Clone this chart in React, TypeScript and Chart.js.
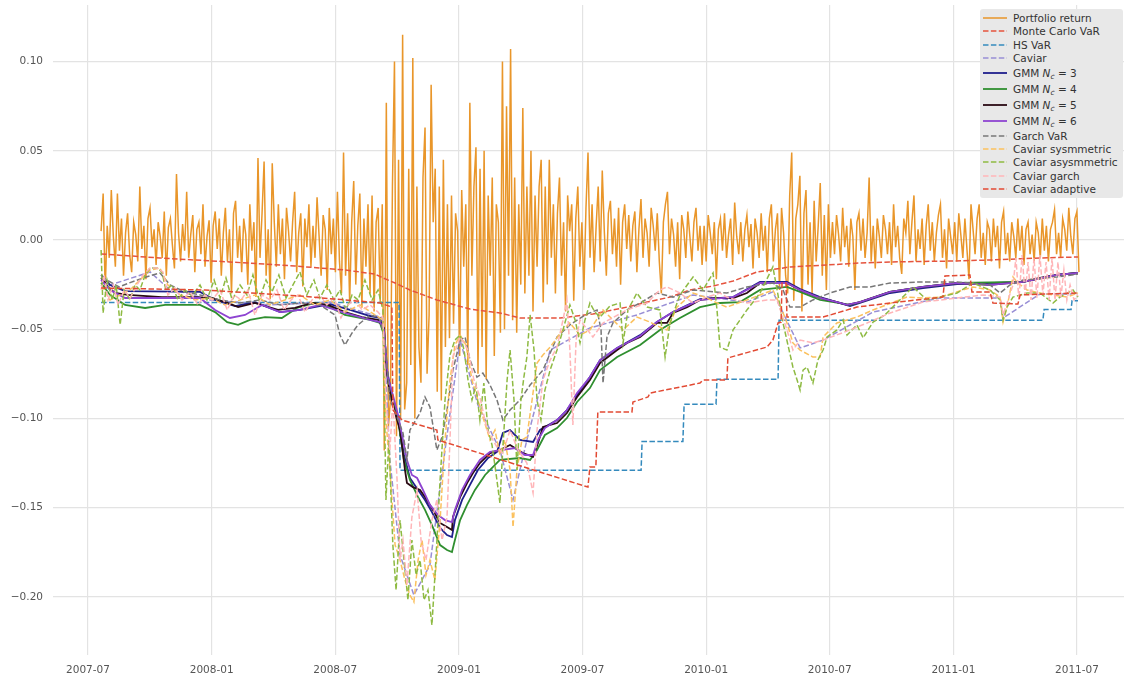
import React, { useEffect, useRef } from 'react';
import { Chart, registerables } from 'chart.js';

Chart.register(...registerables);

const FONT = '"DejaVu Sans", "Liberation Sans", sans-serif';

const xTickValues = [2007.5, 2008.0, 2008.5, 2009.0, 2009.5, 2010.0, 2010.5, 2011.0, 2011.5];
const xTickLabels = ['2007-07', '2008-01', '2008-07', '2009-01', '2009-07', '2010-01', '2010-07', '2011-01', '2011-07'];
const yTickValues = [-0.2, -0.15, -0.1, -0.05, 0, 0.05, 0.1];
const yTickLabels = ['\u22120.20', '\u22120.15', '\u22120.10', '\u22120.05', '0.00', '0.05', '0.10'];

// Portfolio return, sampled about every 3 calendar days from 2007-07-20
const returnStart = 2007.553;
const returnStep = 0.0082396;
const portfolioReturn = [
  // Jul 2007 - mid Sep 2008
  0.005, 0.026, -0.028, 0.008, -0.01, 0.028, 0.002, -0.015, 0.026, -0.006,
  0.012, -0.02, 0.004, 0.015, -0.008, -0.018, 0.01, 0.003, -0.012, 0.03,
  -0.005, 0.008, -0.022, 0.012, 0.018, -0.004, 0.006, -0.014, 0.01, 0.002,
  -0.01, 0.016, -0.02, 0.007, 0.012, -0.003, -0.016, 0.037, 0.004, -0.012,
  0.009, -0.006, 0.027, -0.01, 0.003, 0.014, -0.018, 0.006, 0.01, -0.008,
  0.02, -0.015, 0.002, 0.011, -0.024, 0.008, 0.016, -0.005, 0.012, -0.02,
  0.004, 0.018, -0.012, 0.006, -0.03, 0.015, 0.022, -0.01, 0.008, -0.018,
  0.012, 0.003, -0.025, 0.02, -0.006, 0.01, -0.032, 0.046, -0.01, 0.015,
  0.044, -0.02, 0.006, -0.033, 0.043, 0.01, -0.015, 0.02, -0.008, 0.012,
  -0.022, 0.018, 0.005, -0.012, 0.01, 0.027, -0.018, 0.004, 0.015, -0.026,
  0.012, -0.004, 0.02, -0.015, 0.008, -0.01, 0.024, 0.002, -0.02, 0.014,
  0.006, -0.028, 0.018, -0.008, 0.012, -0.018, 0.027, -0.012, -0.03, 0.049,
  -0.02, 0.015, -0.035, 0.01, 0.033, -0.025, 0.008, 0.026, -0.038, 0.012,
  -0.015, 0.02, -0.03, 0.025, -0.04, 0.01, 0.018, -0.035,
  // crisis: mid Sep 2008 - Apr 2009
  0.02, -0.118, 0.077, -0.105, -0.09, 0.03, 0.1, -0.11, 0.045, -0.1,
  0.115, -0.095, -0.08, 0.04, -0.07, 0.102, -0.1, 0.03, -0.06, -0.08,
  0.035, 0.063, -0.075, -0.042, 0.087, 0.01, 0.04, -0.085, 0.03, -0.09,
  0.045, -0.06, 0.02, -0.055, 0.025, -0.047, 0.015, 0.005, -0.065, 0.028,
  -0.015, 0.02, -0.07, 0.077, -0.02, 0.03, 0.052, -0.075, 0.04, -0.06,
  0.05, -0.078, 0.025, -0.02, 0.035, -0.065, 0.02, 0.01, -0.052, 0.1,
  -0.05, 0.075, -0.02, 0.107, -0.045, 0.035, -0.052, 0.02, -0.025, 0.074,
  -0.03, 0.03, -0.02, 0.05, -0.04, 0.025, -0.015, 0.03, 0.045, -0.035,
  // Apr 2009 - Dec 2009
  0.03, -0.025, 0.045, -0.01, 0.02, -0.03, 0.015, 0.035, -0.02, 0.01,
  -0.04, 0.025, 0.005, 0.02, -0.034, 0.012, 0.03, -0.015, 0.01, -0.028,
  0.018, 0.049, -0.01, 0.02, -0.018, 0.008, 0.03, -0.012, 0.039, 0.005,
  -0.02, 0.015, 0.022, -0.008, 0.012, -0.015, 0.018, -0.025, 0.01, 0.02,
  -0.005, 0.014, -0.012, 0.008, 0.016, -0.018, 0.006, 0.023, -0.01, 0.012,
  0.004, -0.015, 0.018, 0.008, -0.006, 0.015, -0.012, -0.03, 0.01, 0.02,
  0.027, -0.008, 0.012, 0.003, -0.015, 0.01, -0.022, 0.014, 0.006, -0.01,
  0.016, 0.002, -0.012, 0.01, 0.018, -0.006, 0.008, -0.014,
  // 2010 H1
  0.008, -0.012, 0.014, 0.004, -0.008, 0.01, -0.022, 0.006, 0.012, -0.006,
  0.015, -0.01, 0.003, 0.012, -0.014, 0.021, 0.002, -0.008, 0.01, -0.012,
  0.006, 0.014, -0.004, 0.009, -0.016, 0.012, 0.004, -0.01, 0.015, -0.006,
  0.008, -0.018, 0.012, 0.02, -0.012, 0.006, 0.015, -0.028, 0.018, 0.004,
  -0.02, -0.03, 0.025, 0.049, -0.034, 0.012, 0.02, 0.036, -0.04, 0.015,
  0.028, -0.025, 0.01, -0.03, 0.022, -0.012, 0.008, 0.032, -0.02, 0.014,
  -0.028, 0.02, -0.01,
  // Jul 2010 - Jul 2011
  0.01, -0.008, 0.014, 0.003, -0.012, 0.018, -0.004, 0.008, -0.015, 0.012,
  0.002, -0.028, 0.01, 0.015, -0.006, 0.012, -0.01, 0.004, 0.035, -0.012,
  0.008, -0.016, 0.012, 0.002, -0.01, 0.014, 0.006, -0.008, 0.01, -0.014,
  0.02, -0.004, 0.008, -0.01, -0.019, 0.012, 0.004, 0.022, -0.008, 0.01,
  0.025, -0.012, 0.006, -0.005, 0.012, -0.014, 0.008, 0.02, -0.006, 0.01,
  -0.012, 0.004, 0.014, 0.02, -0.01, 0.006, -0.016, 0.012, 0.002, -0.008,
  0.01, -0.012, 0.015, 0.003, -0.01, 0.012, -0.005, -0.022, 0.02, 0.006,
  -0.008, 0.012, 0.02, -0.01, 0.004, -0.014, 0.01, 0.006, -0.012, 0.012,
  -0.004, 0.008, -0.016, 0.01, 0.016, -0.008, 0.004, -0.012, 0.01, 0.002,
  -0.01, 0.012, -0.006, 0.008, -0.014, 0.006, 0.01, -0.008, 0.003, -0.012,
  0.01, 0.004, -0.01, 0.012, -0.006, 0.008, -0.012, 0.006, 0.01, 0.017,
  -0.008, 0.004, -0.01, 0.012, 0.006, -0.006, 0.018, 0.002, -0.008, 0.012,
  0.016, -0.018,
];

const monteCarloVaR: [number, number][] = [
  [2007.553, -0.0078], [2007.791, -0.0101], [2008.074, -0.0123], [2008.337, -0.0146],
  [2008.539, -0.0168], [2008.661, -0.0191], [2008.693, -0.0213], [2008.742, -0.0241],
  [2008.802, -0.028], [2008.911, -0.0336], [2009.045, -0.0387], [2009.166, -0.0409],
  [2009.247, -0.0437], [2009.409, -0.0437], [2009.542, -0.0415], [2009.68, -0.0376],
  [2009.761, -0.0348], [2009.854, -0.032], [2009.935, -0.028], [2010.028, -0.0258],
  [2010.109, -0.023], [2010.206, -0.0179], [2010.339, -0.0151], [2010.489, -0.014],
  [2010.622, -0.0129], [2010.744, -0.0123], [2010.986, -0.0118], [2011.148, -0.0112],
  [2011.35, -0.0101], [2011.504, -0.0095],
];

const hsVaR: [number, number][] = [
  [2007.553, -0.035], [2008.758, -0.035], [2008.762, -0.129], [2009.737, -0.129],
  [2009.741, -0.113], [2009.906, -0.113], [2009.911, -0.092], [2010.04, -0.092],
  [2010.044, -0.078], [2010.291, -0.078], [2010.295, -0.045], [2011.362, -0.045],
  [2011.367, -0.039], [2011.476, -0.039], [2011.48, -0.034], [2011.504, -0.034],
];

const caviar: [number, number][] = [
  [2007.553, -0.0269], [2007.751, -0.0179], [2007.823, -0.0269], [2007.993, -0.0336],
  [2008.236, -0.0364], [2008.479, -0.0348], [2008.693, -0.0437], [2008.721, -0.1233],
  [2008.762, -0.1766], [2008.818, -0.199], [2008.883, -0.1822], [2008.944, -0.1177],
  [2009.005, -0.0561], [2009.077, -0.0925], [2009.166, -0.1177], [2009.219, -0.1457],
  [2009.275, -0.1121], [2009.369, -0.0617], [2009.53, -0.0493], [2009.72, -0.042],
  [2009.947, -0.0308], [2010.165, -0.0348], [2010.27, -0.0291], [2010.38, -0.0605],
  [2010.473, -0.0561], [2010.675, -0.0404], [2010.946, -0.0325], [2011.189, -0.0325],
  [2011.201, -0.0437], [2011.35, -0.0303], [2011.504, -0.0303],
];

const gmm3: [number, number][] = [
  [2007.553, -0.0196], [2007.589, -0.0252], [2007.65, -0.0286], [2007.953, -0.0291],
  [2008.014, -0.0336], [2008.095, -0.037], [2008.175, -0.0348], [2008.277, -0.0404],
  [2008.357, -0.0392], [2008.479, -0.0359], [2008.56, -0.0392], [2008.641, -0.0426],
  [2008.681, -0.0437], [2008.697, -0.0504], [2008.709, -0.0729], [2008.729, -0.0869],
  [2008.754, -0.1009], [2008.778, -0.1205], [2008.802, -0.1334], [2008.835, -0.1401],
  [2008.863, -0.1457], [2008.891, -0.1525], [2008.924, -0.1614], [2008.952, -0.1654],
  [2008.972, -0.1665], [2008.984, -0.157], [2009.013, -0.1457], [2009.045, -0.1373],
  [2009.077, -0.1289], [2009.118, -0.1222], [2009.154, -0.1188], [2009.178, -0.1082],
  [2009.207, -0.1065], [2009.247, -0.1121], [2009.3, -0.1132], [2009.328, -0.1065],
  [2009.397, -0.1009], [2009.437, -0.0953], [2009.478, -0.0869], [2009.53, -0.0768],
  [2009.571, -0.0673], [2009.64, -0.0605], [2009.733, -0.0533], [2009.801, -0.046],
  [2009.866, -0.0404], [2009.975, -0.0331], [2010.109, -0.032], [2010.218, -0.0235],
  [2010.327, -0.0235], [2010.38, -0.0275], [2010.461, -0.032], [2010.582, -0.037],
  [2010.622, -0.0353], [2010.744, -0.0297], [2010.877, -0.0269], [2011.015, -0.0247],
  [2011.282, -0.0235], [2011.419, -0.0196], [2011.504, -0.0185],
];

const gmm4: [number, number][] = [
  [2007.553, -0.0241], [2007.589, -0.0308], [2007.65, -0.0364], [2007.731, -0.0381],
  [2007.812, -0.0364], [2007.953, -0.0364], [2008.014, -0.0404], [2008.063, -0.046],
  [2008.107, -0.0476], [2008.155, -0.0448], [2008.216, -0.0432], [2008.284, -0.0437],
  [2008.345, -0.0381], [2008.418, -0.0353], [2008.479, -0.0376], [2008.539, -0.042],
  [2008.641, -0.0448], [2008.681, -0.0465], [2008.697, -0.0533], [2008.713, -0.0785],
  [2008.733, -0.0897], [2008.754, -0.1009], [2008.778, -0.1233], [2008.802, -0.1345],
  [2008.835, -0.1441], [2008.863, -0.1513], [2008.891, -0.1598], [2008.924, -0.171],
  [2008.952, -0.1738], [2008.972, -0.1749], [2008.984, -0.1682], [2009.005, -0.157],
  [2009.033, -0.1485], [2009.065, -0.1401], [2009.106, -0.1317], [2009.166, -0.1233],
  [2009.247, -0.1222], [2009.288, -0.1233], [2009.316, -0.1177], [2009.348, -0.1093],
  [2009.397, -0.1054], [2009.437, -0.0998], [2009.478, -0.0908], [2009.53, -0.083],
  [2009.571, -0.0729], [2009.64, -0.0656], [2009.733, -0.0589], [2009.813, -0.0504],
  [2009.894, -0.0437], [2009.975, -0.0376], [2010.056, -0.0353], [2010.137, -0.0348],
  [2010.218, -0.028], [2010.327, -0.0263], [2010.38, -0.0291], [2010.461, -0.0336],
  [2010.582, -0.0364], [2010.622, -0.0348], [2010.744, -0.0291], [2010.877, -0.0263],
  [2011.015, -0.0241], [2011.282, -0.0235], [2011.419, -0.0196], [2011.504, -0.0185],
];

const gmm5: [number, number][] = [
  [2007.553, -0.0213], [2007.581, -0.0263], [2007.609, -0.0297], [2007.662, -0.0308],
  [2007.799, -0.032], [2007.933, -0.032], [2008.002, -0.0325], [2008.066, -0.0353],
  [2008.107, -0.0376], [2008.175, -0.0353], [2008.268, -0.0392], [2008.337, -0.0381],
  [2008.406, -0.0353], [2008.471, -0.0364], [2008.539, -0.0404], [2008.608, -0.0432],
  [2008.673, -0.0448], [2008.697, -0.0493], [2008.709, -0.0746], [2008.721, -0.0852],
  [2008.742, -0.097], [2008.762, -0.1065], [2008.782, -0.1289], [2008.79, -0.1362],
  [2008.814, -0.1385], [2008.843, -0.1401], [2008.863, -0.1441], [2008.895, -0.1513],
  [2008.924, -0.1586], [2008.952, -0.1609], [2008.972, -0.1626], [2008.976, -0.1553],
  [2009.005, -0.1441], [2009.033, -0.1362], [2009.057, -0.1306], [2009.085, -0.125],
  [2009.126, -0.1194], [2009.166, -0.1177], [2009.207, -0.1149], [2009.259, -0.1194],
  [2009.3, -0.1216], [2009.32, -0.1138], [2009.34, -0.1048], [2009.397, -0.1026],
  [2009.437, -0.097], [2009.478, -0.088], [2009.53, -0.0785], [2009.571, -0.0689],
  [2009.64, -0.0617], [2009.68, -0.0577], [2009.733, -0.0544], [2009.801, -0.0465],
  [2009.842, -0.0465], [2009.866, -0.0409], [2009.923, -0.0376], [2009.975, -0.0336],
  [2010.044, -0.0325], [2010.109, -0.0325], [2010.165, -0.0297], [2010.218, -0.0241],
  [2010.27, -0.0241], [2010.327, -0.0241], [2010.38, -0.028], [2010.461, -0.0325],
  [2010.541, -0.0353], [2010.57, -0.0364], [2010.622, -0.0348], [2010.744, -0.0291],
  [2010.877, -0.0263], [2011.015, -0.0241], [2011.148, -0.0252], [2011.282, -0.0235],
  [2011.35, -0.0213], [2011.419, -0.0196], [2011.504, -0.0185],
];

const gmm6: [number, number][] = [
  [2007.553, -0.0224], [2007.589, -0.028], [2007.65, -0.0325], [2007.791, -0.0325],
  [2007.953, -0.0325], [2008.014, -0.0392], [2008.074, -0.0437], [2008.135, -0.042],
  [2008.204, -0.0364], [2008.277, -0.0404], [2008.357, -0.0392], [2008.438, -0.0364],
  [2008.539, -0.0409], [2008.641, -0.0448], [2008.681, -0.046], [2008.697, -0.0504],
  [2008.713, -0.0774], [2008.733, -0.0869], [2008.754, -0.0981], [2008.774, -0.1121],
  [2008.79, -0.1233], [2008.81, -0.1317], [2008.831, -0.1334], [2008.851, -0.139],
  [2008.883, -0.1485], [2008.915, -0.1541], [2008.944, -0.157], [2008.972, -0.1581],
  [2008.984, -0.1513], [2009.013, -0.1401], [2009.045, -0.1317], [2009.085, -0.1233],
  [2009.126, -0.1188], [2009.178, -0.1177], [2009.227, -0.1166], [2009.267, -0.1205],
  [2009.3, -0.1205], [2009.32, -0.1121], [2009.348, -0.1054], [2009.397, -0.1009],
  [2009.437, -0.0953], [2009.478, -0.0858], [2009.53, -0.0768], [2009.571, -0.0673],
  [2009.64, -0.0605], [2009.733, -0.0538], [2009.801, -0.046], [2009.866, -0.0404],
  [2009.975, -0.0336], [2010.109, -0.032], [2010.218, -0.0241], [2010.327, -0.0241],
  [2010.38, -0.028], [2010.461, -0.0325], [2010.541, -0.0353], [2010.57, -0.0364],
  [2010.622, -0.0348], [2010.744, -0.0291], [2010.877, -0.0263], [2011.015, -0.0241],
  [2011.148, -0.0252], [2011.282, -0.0235], [2011.419, -0.0196], [2011.504, -0.0185],
];

const garchVaR: [number, number][] = [
  [2007.553, -0.0207], [2007.626, -0.0263], [2007.666, -0.0241], [2007.735, -0.0207],
  [2007.791, -0.0185], [2007.832, -0.0252], [2007.892, -0.0291], [2007.953, -0.0308],
  [2008.034, -0.0336], [2008.115, -0.0353], [2008.196, -0.0336], [2008.277, -0.0364],
  [2008.357, -0.0353], [2008.438, -0.0364], [2008.499, -0.042], [2008.519, -0.0533],
  [2008.539, -0.0589], [2008.568, -0.0521], [2008.592, -0.0476], [2008.641, -0.042],
  [2008.681, -0.0437], [2008.701, -0.0561], [2008.721, -0.0897], [2008.75, -0.0992],
  [2008.774, -0.1082], [2008.79, -0.1233], [2008.802, -0.1065], [2008.843, -0.097],
  [2008.863, -0.088], [2008.883, -0.0936], [2008.911, -0.1177], [2008.932, -0.1104],
  [2008.952, -0.0953], [2008.976, -0.0729], [2009.005, -0.0561], [2009.025, -0.0544],
  [2009.045, -0.0673], [2009.073, -0.0768], [2009.097, -0.0746], [2009.126, -0.0813],
  [2009.154, -0.0897], [2009.178, -0.1009], [2009.207, -0.0953], [2009.247, -0.0897],
  [2009.288, -0.0813], [2009.34, -0.0729], [2009.397, -0.0544], [2009.449, -0.0476],
  [2009.51, -0.042], [2009.559, -0.0392], [2009.575, -0.0504], [2009.583, -0.0802],
  [2009.599, -0.0544], [2009.623, -0.0465], [2009.68, -0.0392], [2009.733, -0.0353],
  [2009.801, -0.0297], [2009.866, -0.032], [2009.947, -0.028], [2010.084, -0.0297],
  [2010.165, -0.0263], [2010.27, -0.0241], [2010.311, -0.028], [2010.339, -0.0376],
  [2010.38, -0.0376], [2010.432, -0.0336], [2010.501, -0.0297], [2010.582, -0.0263],
  [2010.663, -0.0263], [2010.744, -0.0241], [2010.877, -0.0235], [2011.015, -0.0235],
  [2011.148, -0.0252], [2011.189, -0.0297], [2011.229, -0.0252], [2011.282, -0.0224],
  [2011.419, -0.0207], [2011.504, -0.0191],
];

const caviarSymmetric: [number, number][] = [
  [2007.553, -0.0252], [2007.589, -0.0336], [2007.63, -0.0308], [2007.67, -0.028],
  [2007.71, -0.0224], [2007.751, -0.0168], [2007.791, -0.0157], [2007.823, -0.0252],
  [2007.872, -0.0308], [2007.933, -0.0336], [2007.993, -0.0325], [2008.054, -0.0364],
  [2008.115, -0.0336], [2008.175, -0.0308], [2008.236, -0.0364], [2008.297, -0.0336],
  [2008.357, -0.0308], [2008.418, -0.0364], [2008.479, -0.0336], [2008.539, -0.0404],
  [2008.6, -0.0364], [2008.661, -0.042], [2008.693, -0.0448], [2008.705, -0.1009],
  [2008.721, -0.1289], [2008.742, -0.171], [2008.762, -0.1794], [2008.782, -0.1906],
  [2008.802, -0.199], [2008.818, -0.2029], [2008.835, -0.1794], [2008.851, -0.1682],
  [2008.867, -0.1878], [2008.883, -0.1794], [2008.903, -0.1906], [2008.924, -0.157],
  [2008.944, -0.1121], [2008.964, -0.0785], [2008.984, -0.0589], [2009.005, -0.0533],
  [2009.029, -0.0589], [2009.053, -0.0785], [2009.077, -0.0897], [2009.101, -0.1009],
  [2009.126, -0.1121], [2009.146, -0.1065], [2009.166, -0.1205], [2009.186, -0.1121],
  [2009.207, -0.1289], [2009.219, -0.1609], [2009.235, -0.1289], [2009.255, -0.1121],
  [2009.275, -0.1104], [2009.296, -0.0897], [2009.316, -0.0689], [2009.34, -0.0645],
  [2009.369, -0.06], [2009.421, -0.0504], [2009.449, -0.0465], [2009.49, -0.0533],
  [2009.53, -0.0504], [2009.583, -0.0392], [2009.623, -0.0448], [2009.664, -0.0504],
  [2009.72, -0.0432], [2009.773, -0.046], [2009.813, -0.0488], [2009.842, -0.0504],
  [2009.882, -0.0376], [2009.947, -0.0297], [2009.995, -0.032], [2010.044, -0.0353],
  [2010.084, -0.0376], [2010.165, -0.0336], [2010.218, -0.0308], [2010.27, -0.028],
  [2010.299, -0.0364], [2010.327, -0.0465], [2010.351, -0.0577], [2010.38, -0.0617],
  [2010.432, -0.0656], [2010.461, -0.0656], [2010.473, -0.0544], [2010.529, -0.0465],
  [2010.57, -0.0448], [2010.61, -0.0432], [2010.675, -0.0392], [2010.812, -0.032],
  [2010.877, -0.0325], [2010.946, -0.032], [2011.079, -0.0263], [2011.148, -0.028],
  [2011.189, -0.032], [2011.201, -0.046], [2011.217, -0.0376], [2011.241, -0.0207],
  [2011.261, -0.0241], [2011.298, -0.028], [2011.35, -0.0297], [2011.459, -0.032],
  [2011.504, -0.0297],
];

const caviarAsymmetric: [number, number][] = [
  [2007.553, -0.0056], [2007.561, -0.0409], [2007.577, -0.0224], [2007.598, -0.0336],
  [2007.614, -0.0252], [2007.63, -0.0476], [2007.646, -0.028], [2007.67, -0.0336],
  [2007.69, -0.0252], [2007.71, -0.028], [2007.731, -0.0196], [2007.751, -0.0157],
  [2007.779, -0.0157], [2007.799, -0.0179], [2007.815, -0.028], [2007.84, -0.0252],
  [2007.864, -0.0336], [2007.892, -0.028], [2007.921, -0.0314], [2007.953, -0.0252],
  [2007.981, -0.0336], [2008.01, -0.0224], [2008.034, -0.0325], [2008.058, -0.0213],
  [2008.083, -0.0336], [2008.115, -0.0252], [2008.143, -0.0308], [2008.167, -0.0196],
  [2008.192, -0.0336], [2008.22, -0.0224], [2008.244, -0.0291], [2008.272, -0.0196],
  [2008.301, -0.0325], [2008.329, -0.0252], [2008.357, -0.0179], [2008.385, -0.0308],
  [2008.414, -0.0224], [2008.438, -0.0325], [2008.466, -0.0252], [2008.495, -0.0336],
  [2008.519, -0.028], [2008.543, -0.0392], [2008.568, -0.0308], [2008.592, -0.0336],
  [2008.62, -0.0224], [2008.649, -0.0336], [2008.673, -0.028], [2008.693, -0.0392],
  [2008.705, -0.1457], [2008.717, -0.1121], [2008.733, -0.171], [2008.746, -0.1962],
  [2008.762, -0.157], [2008.778, -0.1794], [2008.794, -0.2018], [2008.81, -0.1682],
  [2008.827, -0.1878], [2008.843, -0.1794], [2008.859, -0.2018], [2008.875, -0.1962],
  [2008.891, -0.2158], [2008.907, -0.1794], [2008.924, -0.1345], [2008.944, -0.0897],
  [2008.964, -0.0645], [2008.984, -0.0561], [2009.005, -0.0533], [2009.021, -0.0617],
  [2009.037, -0.0785], [2009.053, -0.0897], [2009.069, -0.0813], [2009.085, -0.1009],
  [2009.101, -0.0802], [2009.118, -0.1065], [2009.134, -0.1149], [2009.15, -0.1306],
  [2009.166, -0.1474], [2009.178, -0.116], [2009.195, -0.0785], [2009.207, -0.0617],
  [2009.223, -0.0897], [2009.235, -0.1289], [2009.251, -0.0897], [2009.263, -0.0768],
  [2009.275, -0.0656], [2009.288, -0.042], [2009.304, -0.0617], [2009.316, -0.0897],
  [2009.332, -0.1009], [2009.348, -0.0841], [2009.369, -0.0729], [2009.397, -0.0617],
  [2009.421, -0.0504], [2009.449, -0.0364], [2009.47, -0.0448], [2009.49, -0.0577],
  [2009.51, -0.0448], [2009.53, -0.0353], [2009.55, -0.0404], [2009.571, -0.0432],
  [2009.611, -0.037], [2009.652, -0.0353], [2009.664, -0.0577], [2009.684, -0.0392],
  [2009.72, -0.0297], [2009.761, -0.0376], [2009.813, -0.0392], [2009.834, -0.0656],
  [2009.854, -0.0465], [2009.894, -0.0308], [2009.947, -0.0207], [2009.987, -0.028],
  [2010.028, -0.0185], [2010.044, -0.0392], [2010.056, -0.06], [2010.084, -0.0617],
  [2010.109, -0.0504], [2010.165, -0.0392], [2010.218, -0.0297], [2010.27, -0.0151],
  [2010.287, -0.028], [2010.311, -0.0465], [2010.331, -0.0589], [2010.351, -0.0712],
  [2010.368, -0.0785], [2010.38, -0.0841], [2010.392, -0.0729], [2010.408, -0.0712],
  [2010.432, -0.0802], [2010.452, -0.0673], [2010.473, -0.0617], [2010.489, -0.0544],
  [2010.529, -0.0504], [2010.554, -0.0448], [2010.57, -0.0533], [2010.61, -0.0476],
  [2010.635, -0.0549], [2010.675, -0.046], [2010.723, -0.042], [2010.812, -0.0297],
  [2010.837, -0.0263], [2010.893, -0.0336], [2010.946, -0.032], [2011.015, -0.0297],
  [2011.079, -0.0241], [2011.148, -0.028], [2011.189, -0.0336], [2011.201, -0.0448],
  [2011.217, -0.0376], [2011.241, -0.032], [2011.298, -0.0297], [2011.35, -0.0297],
  [2011.403, -0.0353], [2011.431, -0.032], [2011.484, -0.028], [2011.504, -0.032],
];

const caviarGarch: [number, number][] = [
  [2007.553, -0.028], [2007.565, -0.0196], [2007.581, -0.0336], [2007.602, -0.0252],
  [2007.622, -0.0364], [2007.646, -0.028], [2007.67, -0.0325], [2007.698, -0.0252],
  [2007.723, -0.0196], [2007.751, -0.0157], [2007.779, -0.0157], [2007.803, -0.0179],
  [2007.823, -0.0308], [2007.852, -0.0269], [2007.88, -0.0336], [2007.913, -0.0291],
  [2007.945, -0.0364], [2007.973, -0.0308], [2008.002, -0.0336], [2008.034, -0.028],
  [2008.063, -0.0392], [2008.091, -0.0308], [2008.119, -0.0336], [2008.147, -0.028],
  [2008.175, -0.042], [2008.204, -0.0308], [2008.236, -0.0336], [2008.264, -0.028],
  [2008.293, -0.0392], [2008.321, -0.0336], [2008.349, -0.0308], [2008.378, -0.0404],
  [2008.406, -0.0336], [2008.438, -0.0308], [2008.466, -0.0364], [2008.495, -0.0325],
  [2008.523, -0.0437], [2008.551, -0.0364], [2008.58, -0.0336], [2008.608, -0.0392],
  [2008.641, -0.0364], [2008.673, -0.0404], [2008.693, -0.0437], [2008.705, -0.0897],
  [2008.721, -0.1177], [2008.733, -0.0897], [2008.75, -0.1345], [2008.762, -0.1794],
  [2008.774, -0.1682], [2008.79, -0.1934], [2008.81, -0.1553], [2008.831, -0.1401],
  [2008.847, -0.1682], [2008.867, -0.1794], [2008.891, -0.157], [2008.911, -0.1457],
  [2008.932, -0.1682], [2008.952, -0.1553], [2008.964, -0.1121], [2008.976, -0.0656],
  [2009.005, -0.0544], [2009.037, -0.0617], [2009.061, -0.0785], [2009.085, -0.088],
  [2009.114, -0.1065], [2009.154, -0.116], [2009.178, -0.1194], [2009.207, -0.1065],
  [2009.239, -0.1177], [2009.275, -0.125], [2009.3, -0.1418], [2009.316, -0.1065],
  [2009.34, -0.0785], [2009.369, -0.0673], [2009.397, -0.06], [2009.421, -0.0448],
  [2009.437, -0.0336], [2009.449, -0.0617], [2009.461, -0.1037], [2009.474, -0.0561],
  [2009.49, -0.0448], [2009.542, -0.0544], [2009.583, -0.0465], [2009.68, -0.0392],
  [2009.761, -0.0353], [2009.813, -0.028], [2009.842, -0.0263], [2009.894, -0.0297],
  [2009.947, -0.0353], [2010.003, -0.032], [2010.056, -0.0297], [2010.084, -0.032],
  [2010.165, -0.0353], [2010.246, -0.0336], [2010.287, -0.0336], [2010.327, -0.0504],
  [2010.351, -0.0617], [2010.38, -0.0561], [2010.432, -0.0577], [2010.473, -0.0561],
  [2010.582, -0.0504], [2010.651, -0.0465], [2010.744, -0.0409], [2010.877, -0.0348],
  [2011.015, -0.0325], [2011.12, -0.0308], [2011.189, -0.032], [2011.201, -0.042],
  [2011.221, -0.0336], [2011.241, -0.0252], [2011.253, -0.0101], [2011.265, -0.0336],
  [2011.278, -0.0084], [2011.29, -0.0308], [2011.302, -0.0123], [2011.314, -0.0336],
  [2011.326, -0.0101], [2011.338, -0.0325], [2011.35, -0.0084], [2011.362, -0.0308],
  [2011.375, -0.0123], [2011.387, -0.0336], [2011.399, -0.0101], [2011.411, -0.0336],
  [2011.423, -0.0123], [2011.435, -0.032], [2011.447, -0.0168], [2011.459, -0.0336],
  [2011.472, -0.0252], [2011.488, -0.0336], [2011.504, -0.0308],
];

const caviarAdaptive: [number, number][] = [
  [2007.553, -0.0269], [2007.973, -0.028], [2008.357, -0.0314], [2008.681, -0.0353],
  [2008.729, -0.0376], [2008.733, -0.0953], [2008.77, -0.1009], [2008.911, -0.1065],
  [2008.915, -0.1121], [2009.522, -0.1385], [2009.53, -0.1272], [2009.554, -0.1272],
  [2009.562, -0.0964], [2009.7, -0.0964], [2009.704, -0.0908], [2009.765, -0.088],
  [2009.773, -0.0858], [2009.975, -0.0802], [2009.987, -0.0785], [2010.084, -0.0785],
  [2010.088, -0.0661], [2010.246, -0.06], [2010.27, -0.0561], [2010.291, -0.0465],
  [2010.303, -0.046], [2010.307, -0.0241], [2010.323, -0.0241], [2010.327, -0.0432],
  [2010.473, -0.0432], [2010.61, -0.0376], [2010.744, -0.0353], [2010.958, -0.032],
  [2010.966, -0.0202], [2011.067, -0.0196], [2011.075, -0.0291], [2011.148, -0.0291],
  [2011.16, -0.0353], [2011.261, -0.0359], [2011.27, -0.0308], [2011.504, -0.0297],
];

type Series = { label: string; nc?: number; data: { x: number; y: number }[]; color: string; width: number; dashed: boolean };

const toPts = (arr: [number, number][]) => arr.map(([x, y]) => ({ x, y }));

const SERIES: Series[] = [
  { label: 'Portfolio return', data: portfolioReturn.map((y, i) => ({ x: returnStart + i * returnStep, y })), color: '#e9962a', width: 1.5, dashed: false },
  { label: 'Monte Carlo VaR', data: toPts(monteCarloVaR), color: '#e5533d', width: 1.5, dashed: true },
  { label: 'HS VaR', data: toPts(hsVaR), color: '#348abd', width: 1.5, dashed: true },
  { label: 'Caviar', data: toPts(caviar), color: '#988ed5', width: 1.5, dashed: true },
  { label: 'GMM', nc: 3, data: toPts(gmm3), color: '#1f1f8c', width: 1.8, dashed: false },
  { label: 'GMM', nc: 4, data: toPts(gmm4), color: '#2f8f2f', width: 1.8, dashed: false },
  { label: 'GMM', nc: 5, data: toPts(gmm5), color: '#2a0a14', width: 1.8, dashed: false },
  { label: 'GMM', nc: 6, data: toPts(gmm6), color: '#8e44d1', width: 1.8, dashed: false },
  { label: 'Garch VaR', data: toPts(garchVaR), color: '#777777', width: 1.5, dashed: true },
  { label: 'Caviar sysmmetric', data: toPts(caviarSymmetric), color: '#fbc15e', width: 1.5, dashed: true },
  { label: 'Caviar asysmmetric', data: toPts(caviarAsymmetric), color: '#8eba42', width: 1.5, dashed: true },
  { label: 'Caviar garch', data: toPts(caviarGarch), color: '#ffb5b8', width: 1.5, dashed: true },
  { label: 'Caviar adaptive', data: toPts(caviarAdaptive), color: '#e24a33', width: 1.5, dashed: true },
];

const DASH = [5.5, 2.4];

function Legend() {
  let center = 18;
  let prevH = 0;
  const rows = SERIES.map((s, i) => {
    const h = s.nc ? 16 : 13.4;
    if (i > 0) center += (prevH + h) / 2;
    prevH = h;
    const top = center - 9 - 7;
    return (
      <div key={i} style={{ position: 'absolute', left: 0, top, height: 14, width: 143, lineHeight: '14px', whiteSpace: 'nowrap' }}>
        <svg width={26} height={14} style={{ position: 'absolute', left: 2, top: 0 }}>
          <line x1={1} y1={7} x2={25} y2={7} stroke={s.color} strokeWidth={s.width} strokeDasharray={s.dashed ? DASH.join(' ') : undefined} />
        </svg>
        <span style={{ position: 'absolute', left: 33, top: 0 }}>
          {s.nc ? (
            <>GMM <i>N</i><sub style={{ fontSize: '7.5px', fontStyle: 'italic', verticalAlign: '-2px' }}>c</sub> = {s.nc}</>
          ) : s.label}
        </span>
      </div>
    );
  });
  return (
    <div style={{ position: 'absolute', left: 980, top: 9, width: 143, height: 189, background: '#e8e8e8', borderRadius: 3, font: `10.5px ${FONT}`, color: '#333' }}>
      {rows}
    </div>
  );
}

export default function App() {
  const ref = useRef<HTMLCanvasElement | null>(null);
  useEffect(() => {
    document.body.style.margin = '0';
    const canvas = ref.current;
    if (!canvas) return;
    const n = SERIES.length;
    const chart = new Chart(canvas, {
      type: 'line',
      data: {
        datasets: SERIES.map((s, i) => ({
          label: s.nc ? `GMM Nc=${s.nc}` : s.label,
          data: s.data,
          borderColor: s.color,
          backgroundColor: s.color,
          borderWidth: s.width,
          borderDash: s.dashed ? DASH : [],
          pointRadius: 0,
          fill: false,
          tension: 0,
          order: n - 1 - i,
        })),
      },
      options: {
        animation: false,
        responsive: false,
        devicePixelRatio: 1,
        parsing: false as any,
        layout: { padding: { top: 5, right: 0, left: 0, bottom: 0 } },
        plugins: { legend: { display: false }, tooltip: { enabled: false } },
        scales: {
          x: {
            type: 'linear',
            min: 2007.3584,
            max: 2011.6901,
            grid: { color: '#e3e3e3', lineWidth: 1.2, drawTicks: false },
            border: { display: false },
            ticks: {
              autoSkip: false,
              maxRotation: 0,
              minRotation: 0,
              padding: 9,
              color: '#555555',
              font: { family: FONT, size: 10.5 },
              callback: (v: any) => {
                const idx = xTickValues.findIndex((t) => Math.abs(t - Number(v)) < 1e-6);
                return idx >= 0 ? xTickLabels[idx] : '';
              },
            },
            afterBuildTicks: (axis: any) => {
              axis.ticks = xTickValues.map((v) => ({ value: v }));
            },
            afterFit: (axis: any) => {
              axis.height = 26;
              axis.paddingLeft = 0; axis.paddingRight = 0; axis.paddingTop = 0; axis.paddingBottom = 0;
            },
          },
          y: {
            type: 'linear',
            min: -0.23262,
            max: 0.13173,
            grid: { color: '#e3e3e3', lineWidth: 1.2, drawTicks: false },
            border: { display: false },
            ticks: {
              padding: 10,
              color: '#555555',
              font: { family: FONT, size: 10.5 },
              callback: (v: any) => {
                const idx = yTickValues.findIndex((t) => Math.abs(t - Number(v)) < 1e-6);
                return idx >= 0 ? yTickLabels[idx] : '';
              },
            },
            afterBuildTicks: (axis: any) => {
              axis.ticks = yTickValues.map((v) => ({ value: v }));
            },
            afterFit: (axis: any) => {
              axis.width = 53;
              axis.paddingLeft = 0; axis.paddingRight = 0; axis.paddingTop = 0; axis.paddingBottom = 0;
            },
          },
        },
      } as any,
    });
    return () => chart.destroy();
  }, []);
  return (
    <div style={{ position: 'relative', width: 1124, height: 681, background: '#ffffff' }}>
      <canvas ref={ref} width={1124} height={681} style={{ display: 'block' }} />
      <Legend />
    </div>
  );
}
